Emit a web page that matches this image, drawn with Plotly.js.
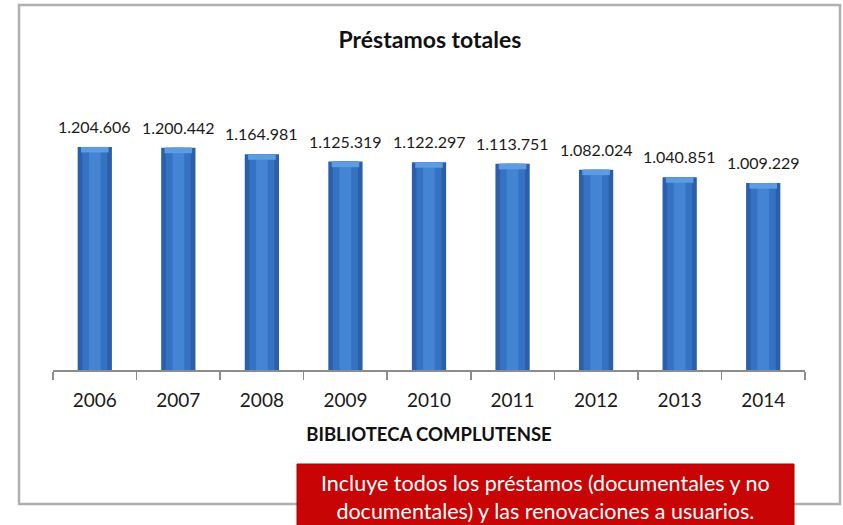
<!DOCTYPE html>
<html>
<head>
<meta charset="utf-8">
<script src="https://cdn.plot.ly/plotly-3.0.1.min.js"></script>
<style>
  html, body { margin: 0; padding: 0; background: #fff; }
  #myDiv { width: 843px; height: 525px; }
</style>
</head>
<body>
<div id="myDiv"></div>
<script>
// Préstamos totales - Biblioteca Complutense
var years = ['2006', '2007', '2008', '2009', '2010', '2011', '2012', '2013', '2014'];
var prestamos = [1204606, 1200442, 1164981, 1125319, 1122297, 1113751, 1082024, 1040851, 1009229];

var chartTitle = 'Préstamos totales';
var xTitle = 'BIBLIOTECA COMPLUTENSE';
var noteText = 'Incluye todos los préstamos (documentales y no<br>documentales) y las renovaciones a usuarios.';

// 1204606 -> "1.204.606"
function fmt(n) {
  return String(n).replace(/\B(?=(\d{3})+(?!\d))/g, '.');
}

var capSize = 30000; // height of the lighter bevel at the top of each bar

// cylinder look: dark outer bar, lighter inner strips, bevel on top
var outer = {
  x: years, y: prestamos, type: 'bar', width: 0.41,
  marker: { color: '#2b5fa9' }, hoverinfo: 'skip'
};
var middle = {
  x: years, y: prestamos, type: 'bar', width: 0.3,
  marker: { color: '#3572c2' }, hoverinfo: 'skip'
};
var inner = {
  x: years, y: prestamos, type: 'bar', width: 0.14,
  marker: { color: '#4384d4' }, hoverinfo: 'skip'
};
var cap = {
  x: years,
  y: prestamos.map(function () { return capSize; }),
  base: prestamos.map(function (v) { return v - capSize; }),
  type: 'bar', width: 0.33,
  marker: { color: '#5d9be2' }, hoverinfo: 'skip'
};

var data = [outer, middle, inner, cap];

// category axis: annotations placed by category index
var valueLabels = years.map(function (yr, i) {
  return {
    x: i, y: prestamos[i], xref: 'x', yref: 'y',
    text: fmt(prestamos[i]), showarrow: false,
    yanchor: 'bottom', yshift: 9,
    font: { family: 'Lato, sans-serif', size: 16, color: '#1a1a1a' }
  };
});

var layout = {
  width: 843,
  height: 525,
  margin: { l: 53, r: 38, t: 80, b: 155 },
  paper_bgcolor: '#ffffff',
  plot_bgcolor: 'rgba(0,0,0,0)',
  barmode: 'overlay',
  showlegend: false,
  title: {
    text: '<b>' + chartTitle + '</b>',
    x: 0.51, xanchor: 'center',
    y: 1 - 40 / 525, yref: 'container', yanchor: 'middle',
    font: { family: 'Lato, sans-serif', size: 23, color: '#111' }
  },
  xaxis: {
    type: 'category',
    range: [-0.5, years.length - 0.5],
    showline: true, linecolor: '#8c8c8c', linewidth: 1.5,
    ticks: 'outside', tickson: 'boundaries', ticklen: 8,
    tickcolor: '#8c8c8c', tickwidth: 1.5,
    tickangle: 0, ticklabelstandoff: 13,
    tickfont: { family: 'Lato, sans-serif', size: 19, color: '#1a1a1a' },
    showgrid: false, zeroline: false,
    title: {
      text: '<b>' + xTitle + '</b>',
      standoff: 18,
      font: { family: 'Lato, sans-serif', size: 18.5, color: '#111' }
    }
  },
  yaxis: {
    range: [0, 1566000],
    visible: false,
    showgrid: false, zeroline: false
  },
  shapes: [
    {
      type: 'rect', xref: 'paper', yref: 'paper', layer: 'below',
      x0: (19 - 53) / 752, x1: (840 - 53) / 752,
      y0: (370 - 504) / 290, y1: (370 - 5) / 290,
      line: { color: '#b0b0b0', width: 2.5 },
      fillcolor: 'rgba(0,0,0,0)'
    },
    {
      type: 'rect', xref: 'paper', yref: 'paper', layer: 'above',
      x0: (297 - 53) / 752, x1: (794 - 53) / 752,
      y0: (370 - 530) / 290, y1: (370 - 464) / 290,
      line: { color: '#b00000', width: 1 },
      fillcolor: '#c80404'
    }
  ],
  annotations: valueLabels.concat([
    {
      xref: 'paper', yref: 'paper',
      x: (545.5 - 53) / 752, y: (370 - 497) / 290,
      xanchor: 'center', yanchor: 'middle',
      text: noteText, showarrow: false, align: 'center',
      font: { family: 'Lato, sans-serif', size: 21.5, color: '#ffffff' }
    }
  ])
};

Plotly.newPlot('myDiv', data, layout, { displayModeBar: false, staticPlot: true });
</script>
</body>
</html>
